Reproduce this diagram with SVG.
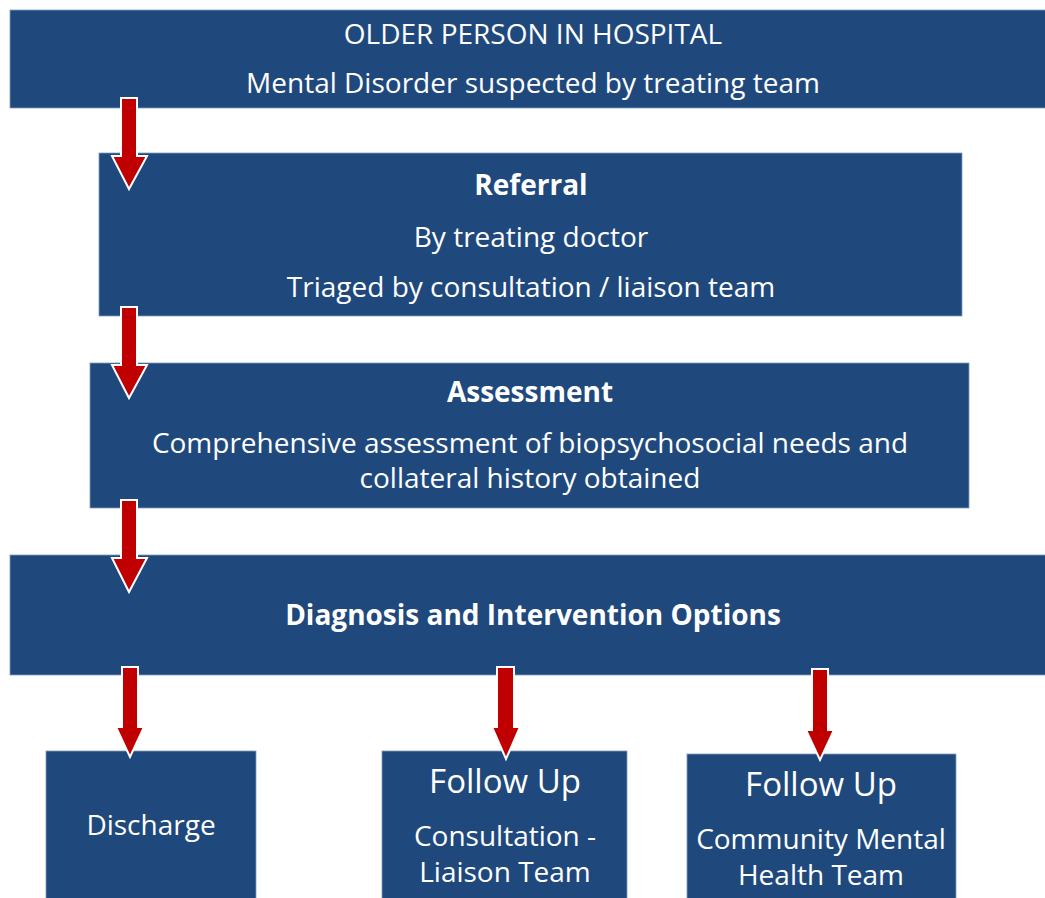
<svg xmlns="http://www.w3.org/2000/svg" width="1045" height="898" viewBox="0 0 1045 898">
<defs>
<style>
.box{fill:#1F497D;stroke:#7F9DC0;stroke-width:0.8}
.t{fill:#FFFFFF;font-family:"Open Sans","Liberation Sans",sans-serif;text-anchor:middle;font-size:28px}
.b{font-weight:bold}
.big{font-size:33px}
.arr{fill:#C00000;stroke:#FFFFFF;stroke-width:2;stroke-linejoin:miter}
</style>
</defs>
<rect width="1045" height="898" fill="#FFFFFF"/>
<g id="node-hospital">
<rect class="box" x="10" y="10" width="1040" height="98"/>
<text class="t" x="533" y="44" font-size="27.3">OLDER PERSON IN HOSPITAL</text>
<text class="t" x="533" y="93">Mental Disorder suspected by treating team</text>
</g>
<g id="node-referral">
<rect class="box" x="99" y="153" width="863" height="163"/>
<text class="t b" x="531" y="195" font-size="30">Referral</text>
<text class="t" x="531" y="247">By treating doctor</text>
<text class="t" x="531" y="297">Triaged by consultation / liaison team</text>
</g>
<g id="node-assessment">
<rect class="box" x="90" y="363" width="879" height="145"/>
<text class="t b" x="530" y="402">Assessment</text>
<text class="t" x="530" y="453">Comprehensive assessment of biopsychosocial needs and</text>
<text class="t" x="530" y="488">collateral history obtained</text>
</g>
<g id="node-diagnosis">
<rect class="box" x="10" y="555" width="1040" height="120"/>
<text class="t b" x="533" y="625" font-size="28.5">Diagnosis and Intervention Options</text>
</g>
<g id="node-discharge">
<rect class="box" x="46" y="751" width="210" height="150"/>
<text class="t" x="151" y="835" font-size="27.3">Discharge</text>
</g>
<g id="node-followup-cl">
<rect class="box" x="382" y="751" width="245" height="150"/>
<text class="t big" x="505" y="793">Follow Up</text>
<text class="t" x="505" y="846">Consultation -</text>
<text class="t" x="505" y="882">Liaison Team</text>
</g>
<g id="node-followup-cmht">
<rect class="box" x="687" y="754" width="269" height="147"/>
<text class="t big" x="821" y="796">Follow Up</text>
<text class="t" x="821" y="849">Community Mental</text>
<text class="t" x="821" y="885">Health Team</text>
</g>
<g id="connectors">
<path class="arr" d="M121,98 H137 V156 H147 L129,189 L112,156 H121 Z"/>
<path class="arr" d="M121,307 H137 V365 H147 L129,398 L112,365 H121 Z"/>
<path class="arr" d="M121,500 H137 V558 H147 L129,592 L112,558 H121 Z"/>
<path class="arr" d="M122,667 H138 V727 H144 L130,757 L116,727 H122 Z"/>
<path class="arr" d="M497,667 H514 V727 H520 L506,759 L492,727 H497 Z"/>
<path class="arr" d="M812,669 H828 V730 H834 L820,760 L806,730 H812 Z"/>
</g>
</svg>
